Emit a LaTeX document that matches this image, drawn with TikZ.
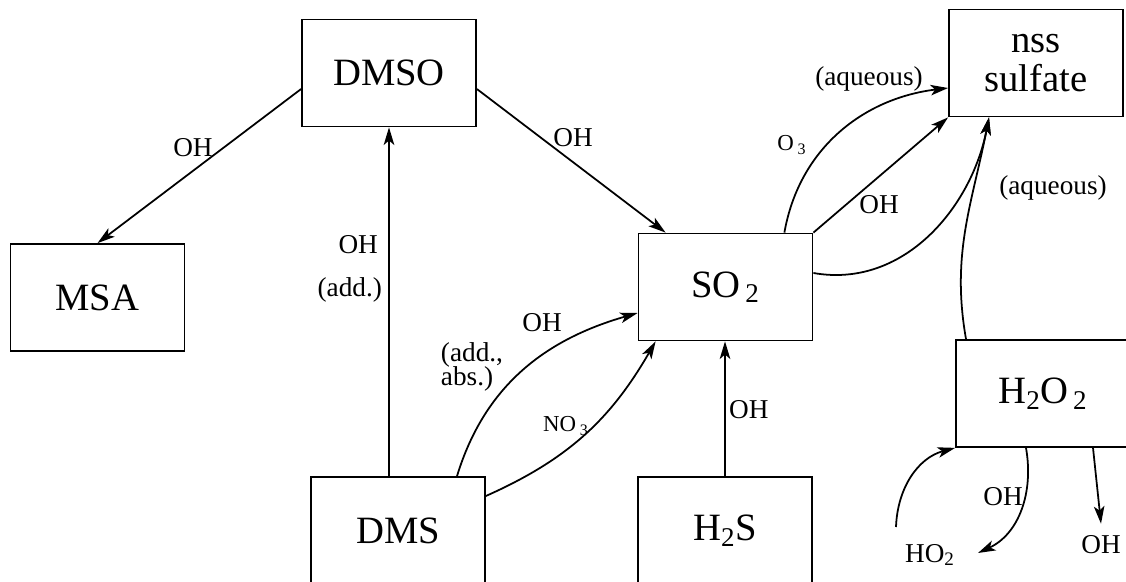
\documentclass[tikz,border=0pt]{standalone}
\usepackage{fontspec}
\setmainfont{Liberation Serif}
\usetikzlibrary{arrows.meta}
\tikzset{
  species/.style={draw, line width=1pt, minimum width=3.48cm, minimum height=2.14cm,
    inner sep=0pt, align=center, font=\fontsize{22}{25}\selectfont},
  rxn/.style={line width=1pt, -{Stealth[length=10pt,width=6pt,inset=2.5pt]}},
  lbl/.style={inner sep=1pt, font=\fontsize{15.5}{17}\selectfont},
  sml/.style={inner sep=1pt, font=\fontsize{13}{15}\selectfont}
}

\begin{document}
\begin{tikzpicture}
\useasboundingbox (0,0) rectangle (22.52,-11.64);
\clip (0,0) rectangle (22.52,-11.64);
\node [species] (dmso) at (7.78,-1.46) {DMSO};
\node [species] (msa) at (1.95,-5.95) {MSA};
\node [species] (nss) at (20.72,-1.26) {nss\\[-3pt]sulfate};
\node [species] (so2) at (14.51,-5.74) {SO\textsubscript{\,2}};
\node [species] (dms) at (7.96,-10.61) {DMS};
\node [species] (h2s) at (14.50,-10.61) {H\textsubscript{2}S};
\node [species] (h2o2) at (20.86,-7.87) {H\textsubscript{2}O\textsubscript{\,2}};
% labels
\node [lbl] (l1) at (3.86,-2.96) {OH};
\node [lbl] (l2) at (11.46,-2.76) {OH};
\node [lbl, anchor=east] (l3) at (7.60,-4.90) {OH};
\node [lbl, anchor=east] (l4) at (7.68,-5.80) {(add.)};
\node [lbl] (l5) at (10.84,-6.46) {OH};
\node [lbl, align=left] (l6) at (9.44,-7.34) {(add.,\\[-3pt]abs.)};
\node [sml] (l7) at (11.32,-8.52) {NO\,\textsubscript{3}};
\node [lbl, anchor=west] (l8) at (14.54,-8.20) {OH};
\node [sml] (l9) at (15.84,-2.90) {O\,\textsubscript{3}};
\node [lbl] (l10) at (17.38,-1.58) {(aqueous)};
\node [lbl] (l11) at (17.58,-4.10) {OH};
\node [lbl] (l12) at (21.06,-3.76) {(aqueous)};
\node [lbl] (l13) at (20.06,-9.94) {OH};
\node [lbl] (ho2) at (18.60,-11.10) {HO\textsubscript{2}};
\node [lbl] (ohb) at (22.02,-10.90) {OH};
\coordinate (ho2in) at (17.92,-10.54);
\coordinate (ho2out) at (19.56,-11.06);
% reactions
\draw [rxn] ([yshift=-.32cm]dmso.west) -- (msa.north);
\draw [rxn] ([yshift=-.32cm]dmso.east) -- ([xshift=.56cm]so2.north west);
\draw [rxn] (dmso.south |- dms.north) -- (dmso.south);
\draw [rxn] ([xshift=1.18cm]dms.north) to [out=73, in=196] ([yshift=-.52cm]so2.west);
\draw [rxn] ([yshift=.69cm]dms.east) to [out=24, in=240] ([xshift=.36cm]so2.south west);
\draw [rxn] (h2s.north) -- (h2s.north |- so2.south);
\draw [rxn] ([xshift=-.58cm]so2.north east) to [out=80, in=187] ([yshift=-.5cm]nss.west);
\draw [rxn] (so2.north east) -- (nss.south west);
\draw [rxn] ([yshift=.28cm]so2.east) to [out=-10, in=259] ([xshift=-.94cm]nss.south);
\draw [rxn] ([xshift=-1.54cm]h2o2.north) to [out=100, in=259] ([xshift=-.94cm]nss.south);
\draw [rxn] (ho2in) to [out=88, in=195] (h2o2.south west);
\draw [rxn] ([xshift=-.34cm]h2o2.south) to [out=-80, in=25] (ho2out);
\draw [rxn] ([xshift=1cm]h2o2.south) -- ([yshift=.2cm]ohb.north);
\end{tikzpicture}
\end{document}
